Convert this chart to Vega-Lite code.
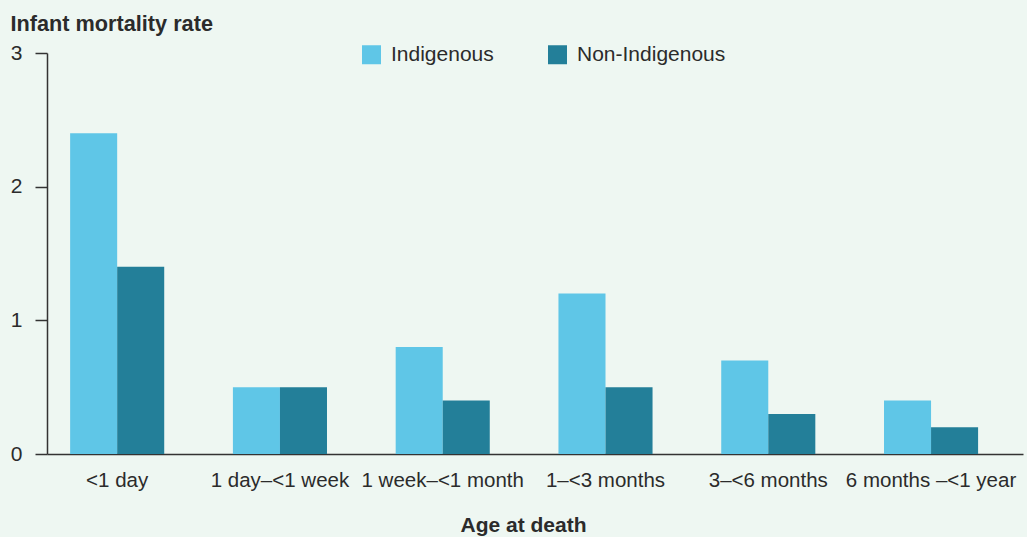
{
  "$schema": "https://vega.github.io/schema/vega-lite/v6.json",
  "width": 976,
  "height": 401,
  "autosize": "none",
  "padding": {"left": 47, "top": 53, "right": 4, "bottom": 83},
  "background": "#eef7f2",
  "config": {
    "view": {"stroke": null},
    "font": "Liberation Sans",
    "axis": {"labelFont": "Liberation Sans", "titleFont": "Liberation Sans"}
  },
  "data": {
    "values": [
      {"age": "<1 day", "group": "Indigenous", "rate": 2.4},
      {"age": "<1 day", "group": "Non-Indigenous", "rate": 1.4},
      {"age": "1 day–<1 week", "group": "Indigenous", "rate": 0.5},
      {"age": "1 day–<1 week", "group": "Non-Indigenous", "rate": 0.5},
      {"age": "1 week–<1 month", "group": "Indigenous", "rate": 0.8},
      {"age": "1 week–<1 month", "group": "Non-Indigenous", "rate": 0.4},
      {"age": "1–<3 months", "group": "Indigenous", "rate": 1.2},
      {"age": "1–<3 months", "group": "Non-Indigenous", "rate": 0.5},
      {"age": "3–<6 months", "group": "Indigenous", "rate": 0.7},
      {"age": "3–<6 months", "group": "Non-Indigenous", "rate": 0.3},
      {"age": "6 months –<1 year", "group": "Indigenous", "rate": 0.4},
      {"age": "6 months –<1 year", "group": "Non-Indigenous", "rate": 0.2}
    ]
  },
  "mark": {"type": "bar"},
  "encoding": {
    "x": {
      "field": "age",
      "type": "nominal",
      "sort": null,
      "scale": {"paddingInner": 0.422, "paddingOuter": 0.209, "align": 0.34},
      "axis": {
        "title": "Age at death",
        "labelAngle": 0,
        "labelFontSize": 20.5,
        "labelColor": "#2b2b2b",
        "labelPadding": 16,
        "ticks": false,
        "domainColor": "#333333",
        "domainWidth": 1.5,
        "titleFontSize": 21,
        "titleFontWeight": "bold",
        "titleColor": "#2b2b2b",
        "titlePadding": 24,
        "titleX": 476
      }
    },
    "xOffset": {
      "field": "group",
      "type": "nominal",
      "scale": {"paddingInner": 0, "paddingOuter": 0}
    },
    "y": {
      "field": "rate",
      "type": "quantitative",
      "scale": {"domain": [0, 3], "nice": false},
      "axis": {
        "values": [0, 1, 2, 3],
        "grid": false,
        "tickSize": 12,
        "tickColor": "#333333",
        "tickWidth": 1.5,
        "domainColor": "#333333",
        "domainWidth": 1.5,
        "labelFontSize": 21,
        "labelColor": "#2b2b2b",
        "labelPadding": 13,
        "title": "Infant mortality rate",
        "titleAngle": 0,
        "titleAlign": "left",
        "titleBaseline": "alphabetic",
        "titleX": -37,
        "titleY": -22.5,
        "titleFontSize": 21.7,
        "titleFontWeight": "bold",
        "titleColor": "#2b2b2b"
      }
    },
    "color": {
      "field": "group",
      "type": "nominal",
      "scale": {"domain": ["Indigenous", "Non-Indigenous"], "range": ["#5fc6e7", "#237f99"]},
      "legend": {
        "title": null,
        "orient": "none",
        "direction": "horizontal",
        "legendX": 314,
        "legendY": -9,
        "padding": 0,
        "symbolType": "square",
        "symbolSize": 361,
        "symbolStrokeWidth": 0,
        "symbolOpacity": 1,
        "labelFontSize": 21,
        "labelColor": "#2b2b2b",
        "labelOffset": 9,
        "columnPadding": 53
      }
    }
  }
}
